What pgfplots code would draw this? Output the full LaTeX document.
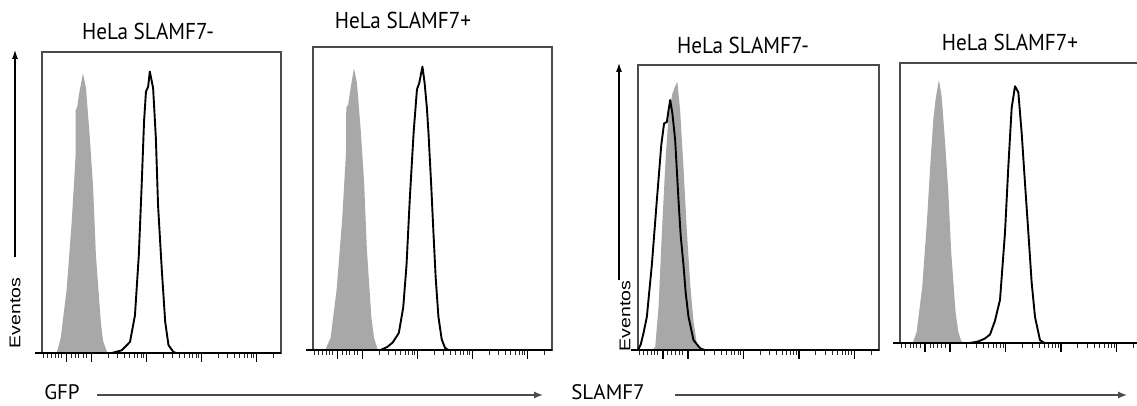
\documentclass[border=0pt]{standalone}
\usepackage{pgfplots}
\pgfplotsset{compat=1.18}
\usepackage{fontspec}
\setmainfont{PT Sans}
\newfontfamily\arialf{Liberation Sans}
\usetikzlibrary{arrows.meta}
\definecolor{histgray}{RGB}{168,168,168}
\definecolor{boxgray}{RGB}{75,75,75}
\pgfplotsset{
  fcs/.style={
    scale only axis, anchor=south west, clip=false,
    xmin=0.1, xmax=4.445, ymin=0, ymax=100,
    axis line style={draw=boxgray, line width=1.5pt},
    ytick=\empty,
    xtick={0.55,1,2,3,4},
    minor xtick={0.12,0.2,0.28,0.34,0.4,0.46,0.64,0.71,0.77,0.85,0.91,
      1.301,1.477,1.602,1.699,1.778,1.845,1.903,1.954,
      2.301,2.477,2.602,2.699,2.778,2.845,2.903,2.954,
      3.301,3.477,3.602,3.699,3.778,3.845,3.903,3.954,4.301},
    xticklabels={},
    xtick pos=bottom, tick align=outside,
    major tick length=9pt, minor tick length=5pt,
    major tick style={black, line width=1.3pt},
    minor tick style={black!85, line width=1pt},
  },
  grayfill/.style={fill=histgray, draw=none},
  blackline/.style={black, line width=1.9pt, line join=round},
}
\newcommand{\ttl}[1]{\scalebox{0.92}[1]{\fontsize{23}{27}\selectfont #1}}
\newcommand{\ev}{\rotatebox{90}{\scalebox{1}[0.8]{\arialf\fontsize{19.5}{22}\selectfont Eventos}}}
\begin{document}
\begin{tikzpicture}
\path[use as bounding box, clip] (0,0) rectangle (1137pt,406pt);

% ---------- Panel 1 : HeLa SLAMF7- (GFP)
\begin{axis}[fcs, at={(42pt,53pt)}, width=239pt, height=301pt]
\addplot[grayfill] coordinates {
(0.367,0) (0.44,4.9) (0.55,21.5) (0.64,43.6) (0.70,62) (0.71,66) (0.712,80.7)
(0.74,81.7) (0.77,85.7) (0.845,92.9) (0.90,88) (0.97,71.4) (1.03,54.8)
(1.08,32.5) (1.17,10.2) (1.21,4) (1.28,0.5) (1.30,0)} \closedcycle;
\addplot[blackline] coordinates {
(0.1,0) (1.37,0) (1.55,0.9) (1.70,3.7) (1.79,12.5) (1.86,32.5) (1.91,54.8)
(1.955,76.8) (1.99,86.8) (2.03,88.5) (2.06,93.5) (2.12,88) (2.17,71.4) (2.21,49)
(2.28,27) (2.34,10.3) (2.40,2.6) (2.49,0.3) (2.55,0) (4.445,0)};
\draw[black, line width=2.4pt] (-0.03,0) -- (4.445,0);
\end{axis}

% ---------- Panel 2 : HeLa SLAMF7+ (GFP)
\begin{axis}[fcs, at={(313pt,56pt)}, width=239pt, height=303pt]
\addplot[grayfill] coordinates {
(0.32,0) (0.42,4) (0.53,20) (0.63,43) (0.69,62) (0.70,66) (0.705,80)
(0.74,81) (0.78,86) (0.845,93) (0.90,88) (0.97,72) (1.03,55)
(1.08,33) (1.16,11) (1.21,4) (1.27,0.5) (1.29,0)} \closedcycle;
\addplot[blackline] coordinates {
(0.1,0) (1.33,0) (1.45,1) (1.55,2.5) (1.66,5.6) (1.74,14) (1.80,28) (1.86,50)
(1.93,72) (1.99,86) (2.03,88) (2.09,93.5) (2.13,88) (2.17,80) (2.20,71.5)
(2.25,54) (2.29,38.6) (2.33,24) (2.38,11) (2.44,3.5) (2.50,0.7) (2.56,0) (4.445,0)};
\draw[black, line width=2.4pt] (-0.03,0) -- (4.445,0);
\end{axis}

% ---------- Panel 3 : HeLa SLAMF7- (SLAMF7)
\begin{axis}[fcs, at={(638pt,56pt)}, width=241pt, height=285pt]
\addplot[grayfill] coordinates {
(0.35,0) (0.41,1) (0.47,15) (0.53,41) (0.60,68) (0.65,82) (0.72,90) (0.78,93)
(0.81,94) (0.86,84) (0.92,64) (0.98,42) (1.04,23.5) (1.10,10) (1.16,2.4) (1.20,0)} \closedcycle;
\addplot[blackline] coordinates {
(0.10,0) (0.15,2) (0.20,6) (0.26,11.7) (0.35,30) (0.44,52.6) (0.52,72) (0.57,79.5)
(0.62,80) (0.65,84) (0.68,87.7) (0.72,83) (0.77,73.7) (0.83,52.6) (0.87,40)
(0.92,29.8) (0.96,20) (1.01,11.7) (1.10,3.5) (1.22,0.6) (1.30,0) (4.445,0)};
\draw[black, line width=2.4pt] (-0.03,0) -- (4.445,0);
\end{axis}

% ---------- Panel 4 : HeLa SLAMF7+ (SLAMF7), cut by the right edge
\begin{axis}[fcs, at={(900pt,63pt)}, width=250pt, height=280pt, xmax=4.6]
\addplot[grayfill] coordinates {
(0.33,0) (0.40,4) (0.50,20) (0.58,42) (0.65,65) (0.70,80) (0.74,87) (0.80,94)
(0.85,88) (0.91,72) (0.97,54) (1.02,33) (1.10,11) (1.15,4) (1.20,0.8) (1.24,0)} \closedcycle;
\addplot[blackline] coordinates {
(0.1,0) (1.36,0) (1.50,0.5) (1.62,1.5) (1.72,3) (1.81,8) (1.90,15.4) (1.99,39.5)
(2.05,63) (2.11,84) (2.17,91.7) (2.23,89.5) (2.29,75) (2.35,57) (2.41,39.5)
(2.47,21.5) (2.53,9.3) (2.62,1) (2.70,0) (4.6,0)};
\draw[black, line width=2.4pt] (-0.03,0) -- (4.6,0);
\end{axis}

% ---------- titles
\node at (148pt,375pt) {\ttl{HeLa SLAMF7-}};
\node at (403pt,386pt) {\ttl{HeLa SLAMF7+}};
\node at (743pt,361pt) {\ttl{HeLa SLAMF7-}};
\node at (1010pt,364pt) {\ttl{HeLa SLAMF7+}};

% ---------- y arrows and Eventos
\draw[black, line width=1.1pt, -{Latex[length=9pt,width=6pt]}] (15pt,149pt) -- (15pt,356pt);
\node at (15pt,93pt) {\ev};
\draw[black, line width=1.1pt, -{Latex[length=9pt,width=6pt]}] (619pt,126pt) -- (619pt,343pt);
\node at (625pt,90pt) {\ev};

% ---------- x labels and arrows
\node[inner sep=0pt, anchor=base] at (62pt,6pt) {\fontsize{21}{25}\selectfont GFP};
\draw[boxgray, line width=1.3pt, -{Latex[length=9pt,width=7pt]}] (97pt,11pt) -- (543pt,11pt);
\node[inner sep=0pt, anchor=base] at (608pt,6pt) {\fontsize{21}{25}\selectfont SLAMF7};
\draw[boxgray, line width=1.3pt, -{Latex[length=9pt,width=7pt]}] (675pt,11pt) -- (1127pt,11pt);
\end{tikzpicture}
\end{document}
